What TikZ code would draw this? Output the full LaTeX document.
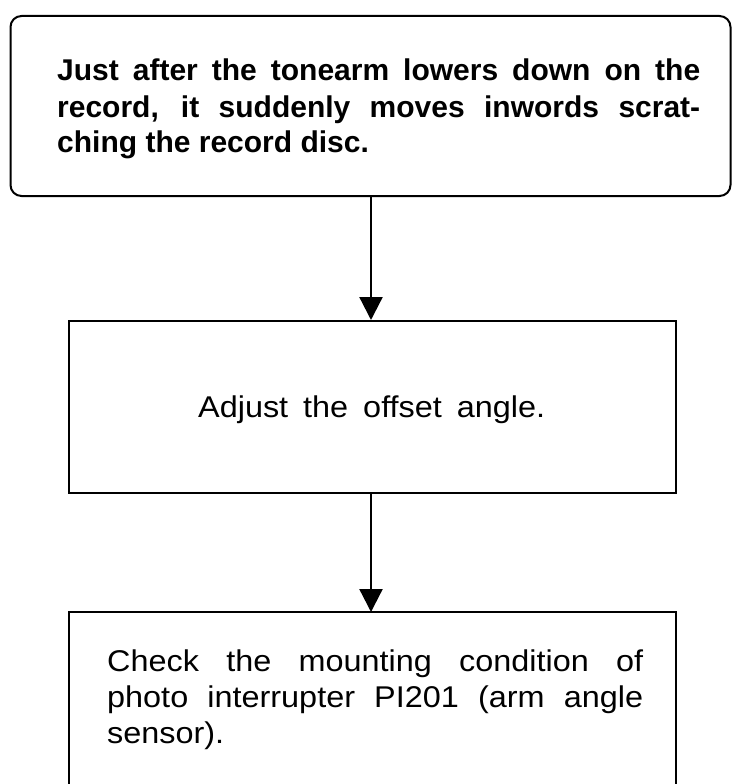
\documentclass[tikz,border=0pt]{standalone}
\usepackage{fontspec}
\setmainfont{Liberation Sans}[FakeStretch=1.08]
\newfontfamily\hdfont{Liberation Sans}
\usetikzlibrary{arrows.meta}
\begin{document}
\begin{tikzpicture}[x=1pt,y=-1pt]
\tikzset{
  box/.style={draw, line width=2pt, inner sep=0pt},
  arr/.style={line width=2.3pt, -{Triangle[length=23pt,width=23pt]}},
  txt/.style={inner sep=0pt, anchor=base west, font=\fontsize{30}{36}\selectfont}
}
\useasboundingbox (0,0) rectangle (733,784);
% boxes
\node[box, rounded corners=11pt, minimum width=720pt, minimum height=180pt] (b1) at (370.5,106) {};
\node[box, minimum width=607pt, minimum height=172pt] (b2) at (372.5,407) {};
\node[inner sep=0pt, minimum width=607pt, minimum height=172pt, anchor=north west] (b3) at (69,612) {};
\draw[line width=2pt] (b3.south west) -- (b3.north west) -- (b3.north east) -- (b3.south east);
% texts
\node[txt, font=\fontsize{30}{36}\selectfont\hdfont\bfseries] (t1) at (57,81)
  {\parbox[t]{643pt}{\makebox[643pt][s]{Just after the tonearm lowers down on the}\\
   \makebox[643pt][s]{record, it suddenly moves inwords scrat-}\\
   ching the record disc.}};
\node[txt] (t2) at (198,417) {\makebox[347pt][s]{Adjust the offset angle.}};
\node[txt, font=\fontsize{30}{36}\selectfont] (t3) at (107,671)
  {\parbox[t]{536pt}{\makebox[536pt][s]{Check the mounting condition of}\\
   \makebox[536pt][s]{photo interrupter PI201 (arm angle}\\
   sensor).}};
% connectors
\coordinate (ax) at (371,0);
\draw[arr] (b1.south -| ax) -- (b2.north -| ax);
\draw[arr] (b2.south -| ax) -- (b3.north -| ax);
\end{tikzpicture}
\end{document}
